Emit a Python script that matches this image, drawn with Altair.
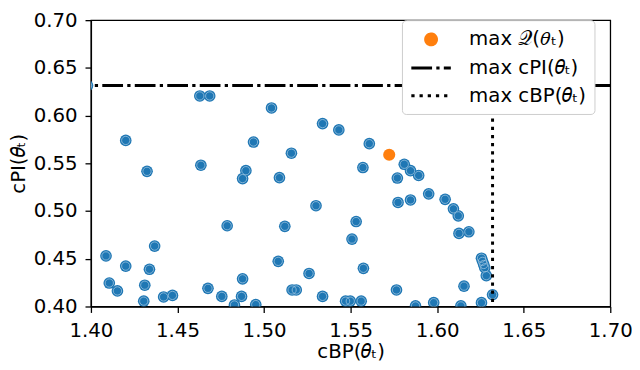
import altair as alt
import pandas as pd

# blue candidate points: cBP (x) and cPI (y)
cbp = [1.398, 1.4629, 1.4686, 1.5043, 1.4201, 1.4939, 1.4635, 1.4324, 1.4876, 1.4895,
       1.4787, 1.4087, 1.4106, 1.4153, 1.4201, 1.4368, 1.4338, 1.4311, 1.4305, 1.4420,
       1.4471, 1.4676, 1.4756, 1.4876, 1.4870, 1.4829, 1.4952, 1.5338, 1.5432, 1.5158,
       1.5608, 1.5089, 1.5571, 1.5300, 1.5120, 1.5532, 1.5508, 1.5082, 1.5260, 1.5574,
       1.5162, 1.5186, 1.5338, 1.5471, 1.5498, 1.5561, 1.5770, 1.5774, 1.5846, 1.5951,
       1.6046, 1.6094, 1.6122, 1.6126, 1.6183, 1.6256, 1.6262, 1.6269, 1.6275, 1.6284,
       1.6155, 1.6320, 1.6256, 1.6137, 1.5980, 1.5810, 1.5846, 1.5893, 1.5765, 1.5875]
cpi = [0.6315, 0.6206, 0.6206, 0.6080, 0.5740, 0.5723, 0.5480, 0.5416, 0.5340, 0.5423,
       0.4846, 0.4530, 0.4246, 0.4163, 0.4423, 0.4633, 0.4390, 0.4223, 0.4056, 0.4100,
       0.4116, 0.4190, 0.4106, 0.4290, 0.4106, 0.4016, 0.4020, 0.5916, 0.5850, 0.5606,
       0.5706, 0.5350, 0.5456, 0.5056, 0.4840, 0.4890, 0.4706, 0.4473, 0.4346, 0.4400,
       0.4173, 0.4173, 0.4106, 0.4056, 0.4056, 0.4056, 0.5346, 0.5090, 0.5116, 0.5180,
       0.5123, 0.5023, 0.4950, 0.4766, 0.4783, 0.4506, 0.4473, 0.4440, 0.4406, 0.4323,
       0.4213, 0.4123, 0.4040, 0.4006, 0.4040, 0.5490, 0.5423, 0.5373, 0.4173, 0.4006]

best_cbp = [1.5723]
best_cpi = [0.5590]
max_cpi = [0.6315]
max_cbp = [1.6320]

legend_labels = ["max 𝒬(𝜃ₜ)", "max cPI(𝜃ₜ)", "max cBP(𝜃ₜ)"]
x_ticks = [1.40, 1.45, 1.50, 1.55, 1.60, 1.65, 1.70]
y_ticks = [0.40, 0.45, 0.50, 0.55, 0.60, 0.65, 0.70]

pts = pd.DataFrame({"cbp": cbp, "cpi": cpi})
best = pd.DataFrame({"cbp": best_cbp, "cpi": best_cpi, "series": [legend_labels[0]]})
hline = pd.DataFrame({"cpi": max_cpi})
vline = pd.DataFrame({"cbp": max_cbp})

X = alt.X("cbp:Q", scale=alt.Scale(domain=[1.40, 1.70], nice=False, zero=False),
          axis=alt.Axis(values=x_ticks, format=".2f", title="cBP(𝜃ₜ)", titlePadding=2))
Y = alt.Y("cpi:Q", scale=alt.Scale(domain=[0.40, 0.70], nice=False, zero=False),
          axis=alt.Axis(values=y_ticks, format=".2f", title="cPI(𝜃ₜ)", titlePadding=5))

blue = alt.Chart(pts).mark_circle(size=139, color="#1f77b4", opacity=1, clip=True).encode(X, Y)
ring = alt.Chart(pts).mark_point(size=70, filled=False, color="#a8cbe4", strokeWidth=0.8,
                                 opacity=0.9, clip=True).encode(X, Y)
orange = alt.Chart(best).mark_circle(size=150, color="#ff7f0e", opacity=1, clip=True).encode(X, Y)

circle_path = "M0.45,0A0.55,0.55 0 1,0 1.55,0A0.55,0.55 0 1,0 0.45,0Z"
line_path = "M-1,0L3,0"
leg = alt.Legend(title=None, orient="none", legendX=315, legendY=0, fillColor="white",
                 strokeColor="#cccccc", cornerRadius=4, padding=8,
                 labelFont="DejaVu Sans", labelFontSize=20, labelColor="black",
                 symbolSize=400, symbolStrokeWidth=3, labelOffset=37, rowPadding=6,
                 labelLimit=400)
dom = legend_labels
legend_layer = alt.Chart(best).transform_filter("false").mark_point(
    filled=True, size=400, strokeWidth=3, opacity=1).encode(
    X, Y,
    fill=alt.Fill("series:N", scale=alt.Scale(domain=dom, range=["#ff7f0e", "black", "black"]), legend=leg),
    stroke=alt.Stroke("series:N", scale=alt.Scale(domain=dom, range=["#ff7f0e", "black", "black"]), legend=leg),
    shape=alt.Shape("series:N", scale=alt.Scale(domain=dom, range=[circle_path, line_path, line_path]), legend=leg),
    strokeDash=alt.StrokeDash("series:N", scale=alt.Scale(domain=dom, range=[[1, 0], [21, 4.3, 3.3, 4.3], [3.3, 5]]), legend=leg),
)

hrule = alt.Chart(hline).mark_rule(color="black", strokeWidth=3,
                                   strokeDash=[21, 4.3, 3.3, 4.3]).encode(y=alt.Y("cpi:Q"))
vrule = alt.Chart(vline).mark_rule(color="black", strokeWidth=3,
                                   strokeDash=[3.3, 5]).encode(x=alt.X("cbp:Q"))

chart = alt.layer(blue, ring, orange, legend_layer, hrule, vrule).properties(
    width=526, height=290,
    padding={"left": 84, "top": 10, "right": 22, "bottom": 62},
    autosize=alt.AutoSizeParams(type="none"),
).configure_view(stroke="black", strokeWidth=1.3).configure_axis(
    grid=False, labelFont="DejaVu Sans", labelFontSize=20, labelColor="black",
    titleFont="DejaVu Sans", titleFontSize=20, titleFontWeight="normal", titleColor="black",
    tickColor="black", domainColor="black", tickSize=6, tickWidth=1.3, domainWidth=1.3,
    labelPadding=8, labelFlush=False, labelOverlap=False,
)

chart.save("out.html", embed_options={"renderer": "svg", "actions": False})
